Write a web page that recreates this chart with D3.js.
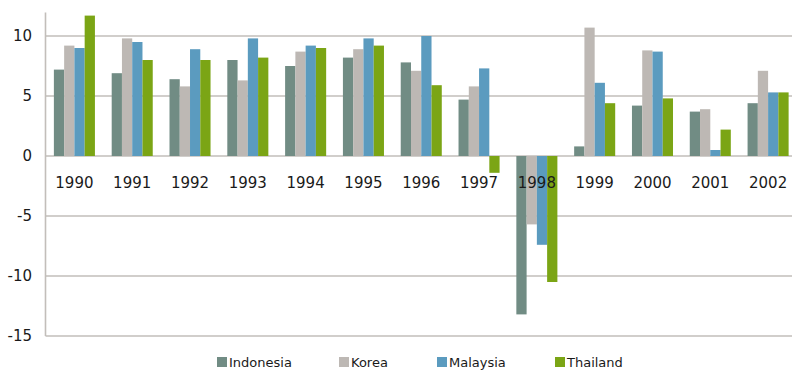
<!DOCTYPE html>
<html>
<head>
<meta charset="utf-8">
<script src="https://cdn.jsdelivr.net/npm/d3@7"></script>
<style>
  html, body { margin: 0; padding: 0; background: #ffffff; }
  svg { display: block; font-family: "DejaVu Sans", Verdana, sans-serif; }
</style>
</head>
<body>
<svg id="chart" width="792" height="371"></svg>
<script>
// Annual real GDP growth (%), 1990-2002
const years = ["1990","1991","1992","1993","1994","1995","1996","1997","1998","1999","2000","2001","2002"];
const countries = ["Indonesia", "Korea", "Malaysia", "Thailand"];
const indonesia = [7.2, 6.9, 6.4, 8.0, 7.5, 8.2, 7.8, 4.7, -13.2, 0.8, 4.2, 3.7, 4.4];
const korea     = [9.2, 9.8, 5.8, 6.3, 8.7, 8.9, 7.1, 5.8, -5.7, 10.7, 8.8, 3.9, 7.1];
const malaysia  = [9.0, 9.5, 8.9, 9.8, 9.2, 9.8, 10.0, 7.3, -7.4, 6.1, 8.7, 0.5, 5.3];
const thailand  = [11.7, 8.0, 8.0, 8.2, 9.0, 9.2, 5.9, -1.4, -10.5, 4.4, 4.8, 2.2, 5.3];
const yTicks = [-15, -10, -5, 0, 5, 10];

const seriesValues = [indonesia, korea, malaysia, thailand];
const colors = ["#718c84", "#bdb8b4", "#5b9bbf", "#7ba515"];

const svg = d3.select("#chart");
const margin = { left: 45.5, right: -5, top: 12, bottom: 35 };
const W = 792, H = 371;

const x0 = d3.scaleBand().domain(years)
  .range([margin.left, W - margin.right])
  .paddingInner(0.29).paddingOuter(0.145);
const x1 = d3.scaleBand().domain(countries).range([0, x0.bandwidth()]);
const y = d3.scaleLinear().domain([-15, 12]).range([336, 12]);

const gridColor = "#c2beba";

// horizontal gridlines
svg.append("g").selectAll("line").data(yTicks).join("line")
  .attr("x1", margin.left).attr("x2", W)
  .attr("y1", d => y(d)).attr("y2", d => y(d))
  .attr("stroke", gridColor).attr("stroke-width", 1.6);

// bars
const groups = svg.append("g").selectAll("g").data(years).join("g")
  .attr("transform", d => `translate(${x0(d)},0)`);
groups.selectAll("rect")
  .data((yr, i) => countries.map((c, k) => ({ c, k, v: seriesValues[k][i] })))
  .join("rect")
  .attr("x", d => x1(d.c))
  .attr("width", x1.bandwidth())
  .attr("y", d => y(Math.max(0, d.v)))
  .attr("height", d => Math.abs(y(d.v) - y(0)))
  .attr("fill", d => colors[d.k]);

// vertical axis line
svg.append("line")
  .attr("x1", margin.left).attr("x2", margin.left)
  .attr("y1", 12.5).attr("y2", y(-15))
  .attr("stroke", gridColor).attr("stroke-width", 1.6);

// y tick labels
svg.append("g").selectAll("text").data(yTicks).join("text")
  .attr("x", 32).attr("y", d => y(d))
  .attr("dy", "0.36em")
  .attr("text-anchor", "end")
  .attr("font-size", 15).attr("fill", "#1a1a1a")
  .text(d => d);

// category labels just below the zero line
svg.append("g").selectAll("text").data(years).join("text")
  .attr("x", d => x0(d) + x0.bandwidth() / 2)
  .attr("y", 188)
  .attr("text-anchor", "middle")
  .attr("font-size", 15).attr("fill", "#1a1a1a")
  .text(d => d);

// legend along the bottom edge
const legendX = [217, 339, 437, 555];
const legend = svg.append("g").selectAll("g").data(countries).join("g")
  .attr("transform", (d, i) => `translate(${legendX[i]},357)`);
legend.append("rect").attr("width", 10).attr("height", 10)
  .attr("fill", (d, i) => colors[i]);
legend.append("text").attr("x", 12).attr("y", 10)
  .attr("font-size", 13).attr("fill", "#1a1a1a")
  .text(d => d);
</script>
</body>
</html>
